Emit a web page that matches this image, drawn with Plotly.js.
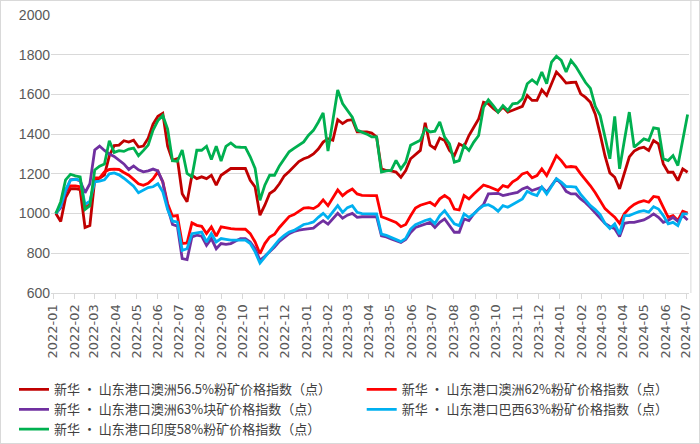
<!DOCTYPE html>
<html>
<head>
<meta charset="utf-8">
<script src="https://cdn.plot.ly/plotly-3.0.1.min.js"></script>
<style>
  html, body { margin: 0; padding: 0; background: #fff; }
  #wrap { position: relative; width: 700px; height: 444px; }
  #chart { width: 700px; height: 444px; }
  #frame { position: absolute; left: 0; top: 0; width: 700px; height: 444px; box-sizing: border-box; border: 1px solid #d9d9d9; pointer-events: none; }
</style>
</head>
<body>
<div id="wrap"><div id="chart"></div><div id="frame"></div></div>
<script>
// Weekly observation dates
const dates = [
 '2022-01-05','2022-01-12','2022-01-19','2022-01-26','2022-02-02','2022-02-09','2022-02-16','2022-02-23',
 '2022-03-02','2022-03-09','2022-03-16','2022-03-23','2022-03-30','2022-04-06','2022-04-13','2022-04-20','2022-04-27',
 '2022-05-04','2022-05-11','2022-05-18','2022-05-25','2022-06-01','2022-06-08','2022-06-15','2022-06-22','2022-06-29',
 '2022-07-06','2022-07-13','2022-07-20','2022-07-27','2022-08-03','2022-08-10','2022-08-17','2022-08-24','2022-08-31',
 '2022-09-07','2022-09-14','2022-09-21','2022-09-28','2022-10-05','2022-10-12','2022-10-19','2022-10-26',
 '2022-11-02','2022-11-09','2022-11-16','2022-11-23','2022-11-30','2022-12-07','2022-12-14','2022-12-21','2022-12-28',
 '2023-01-04','2023-01-11','2023-01-18','2023-01-25','2023-02-01','2023-02-08','2023-02-15','2023-02-22',
 '2023-03-01','2023-03-08','2023-03-15','2023-03-22','2023-03-29','2023-04-05','2023-04-12','2023-04-19','2023-04-26',
 '2023-05-03','2023-05-10','2023-05-17','2023-05-24','2023-05-31','2023-06-07','2023-06-14','2023-06-21','2023-06-28',
 '2023-07-05','2023-07-12','2023-07-19','2023-07-26','2023-08-02','2023-08-09','2023-08-16','2023-08-23','2023-08-30',
 '2023-09-06','2023-09-13','2023-09-20','2023-09-27','2023-10-04','2023-10-11','2023-10-18','2023-10-25',
 '2023-11-01','2023-11-08','2023-11-15','2023-11-22','2023-11-29','2023-12-06','2023-12-13','2023-12-20','2023-12-27',
 '2024-01-03','2024-01-10','2024-01-17','2024-01-24','2024-01-31','2024-02-07','2024-02-14','2024-02-21','2024-02-28',
 '2024-03-06','2024-03-13','2024-03-20','2024-03-27','2024-04-03','2024-04-10','2024-04-17','2024-04-24',
 '2024-05-01','2024-05-08','2024-05-15','2024-05-22','2024-05-29','2024-06-05','2024-06-12','2024-06-19','2024-06-26',
 '2024-07-03'
];

const seriesNames = [
 '新华 · 山东港口澳洲56.5%粉矿价格指数（点）',
 '新华 · 山东港口澳洲62%粉矿价格指数（点）',
 '新华 · 山东港口澳洲63%块矿价格指数（点）',
 '新华 · 山东港口巴西63%粉矿价格指数（点）',
 '新华 · 山东港口印度58%粉矿价格指数（点）'
];

const aus565 = [
 1000,960,1080,1125,1125,1120,930,940,1170,1178,
 1195,1290,1342,1345,1367,1360,1370,1335,1340,1380,
 1450,1490,1505,1340,1268,1277,1100,1059,1193,1176,
 1185,1176,1193,1143,1193,1210,1227,1227,1227,1227,
 1168,1134,992,1042,1101,1118,1150,1190,1212,1238,
 1262,1276,1285,1300,1325,1360,1377,1369,1473,1453,
 1470,1473,1411,1411,1411,1405,1386,1225,1217,1215,
 1209,1183,1217,1276,1295,1318,1457,1344,1327,1380,
 1368,1318,1292,1351,1338,1393,1435,1477,1561,1553,
 1530,1511,1536,1511,1520,1532,1540,1595,1570,1570,
 1623,1595,1655,1713,1687,1657,1660,1662,1603,1585,
 1560,1500,1400,1290,1205,1183,1124,1208,1285,1315,
 1328,1334,1318,1368,1351,1250,1208,1208,1166,1225,1208
];

const aus62 = [
 1000,1040,1110,1139,1139,1135,1030,1046,1180,1180,
 1210,1222,1224,1222,1207,1193,1172,1150,1142,1152,
 1175,1210,1160,1050,987,990,849,852,953,941,
 936,899,933,886,933,928,924,922,921,921,
 899,857,798,849,882,896,930,960,985,995,
 1012,1028,1030,1025,1040,1069,1040,1080,1119,1090,
 1110,1124,1099,1092,1090,1090,1090,984,975,965,
 955,934,945,989,1028,1042,1050,1057,1040,1074,
 1091,1074,1023,1018,1091,1074,1099,1124,1144,1136,
 1124,1116,1141,1133,1160,1175,1200,1208,1180,1191,
 1225,1191,1240,1292,1267,1234,1237,1234,1200,1172,
 1140,1105,1065,1025,1003,982,951,1000,1027,1046,
 1058,1065,1057,1086,1082,1032,981,990,965,1012,1002
];

const aus63lump = [
 1000,1030,1110,1170,1173,1165,1105,1150,1320,1340,
 1318,1300,1288,1270,1250,1222,1240,1220,1210,1215,
 1224,1215,1160,1030,945,937,773,768,882,891,
 886,840,874,823,849,845,849,862,874,874,
 857,823,765,785,807,832,860,880,899,910,
 917,920,922,927,947,964,947,975,1001,977,
 992,1001,981,984,984,984,984,888,882,872,
 863,854,870,905,930,939,950,956,930,956,
 973,939,906,906,973,965,998,1023,1045,1099,
 1099,1102,1091,1097,1100,1107,1124,1133,1116,1124,
 1133,1107,1140,1175,1150,1112,1099,1099,1074,1055,
 1030,1005,980,950,935,923,884,951,956,956,
 962,968,981,998,981,956,965,981,961,990,968
];

const bra63 = [
 1000,1040,1120,1168,1172,1170,1046,1063,1160,1163,
 1170,1200,1205,1195,1178,1160,1138,1105,1120,1131,
 1135,1150,1110,1020,962,958,815,823,899,902,
 907,857,899,857,874,870,866,866,866,866,
 849,807,751,781,807,840,870,890,907,915,
 930,945,950,958,981,1001,977,1010,1040,1006,
 1030,1040,1006,1000,998,998,998,897,890,880,
 871,859,875,922,944,955,965,972,950,990,
 1015,981,948,939,998,981,998,1023,1040,1045,
 1032,1012,1040,1032,1045,1060,1074,1112,1099,1091,
 1133,1099,1140,1175,1158,1136,1136,1133,1096,1070,
 1040,1020,995,950,925,948,897,990,990,1000,
 1010,1015,1007,1035,1023,990,948,956,939,998,998
];

const ind58 = [
 1000,1060,1170,1198,1190,1185,1021,1040,1220,1239,
 1250,1367,1308,1317,1313,1325,1330,1291,1317,1345,
 1420,1468,1494,1426,1266,1263,1320,1202,1185,1319,
 1319,1339,1272,1339,1265,1339,1356,1336,1334,1333,
 1286,1227,1067,1143,1193,1193,1240,1275,1311,1328,
 1345,1361,1395,1419,1460,1507,1315,1470,1622,1554,
 1518,1485,1420,1411,1400,1386,1386,1209,1215,1217,
 1268,1225,1259,1344,1355,1369,1428,1411,1415,1462,
 1385,1351,1259,1267,1343,1318,1360,1393,1536,1573,
 1544,1511,1544,1519,1553,1556,1578,1654,1674,1654,
 1713,1654,1763,1792,1771,1713,1771,1740,1700,1660,
 1630,1540,1494,1376,1276,1489,1225,1370,1511,1334,
 1355,1376,1368,1432,1427,1276,1267,1292,1242,1370,1499
];

const colors = ['#C00000', '#FF0000', '#7030A0', '#00B0F0', '#00B050'];
const values = [aus565, aus62, aus63lump, bra63, ind58];
const legendFor = ['legend', 'legend2', 'legend', 'legend2', 'legend'];

const traces = values.map((v, k) => ({
  x: dates, y: v, type: 'scatter', mode: 'lines', name: seriesNames[k],
  line: { color: colors[k], width: 2.8 },
  legend: legendFor[k], hoverinfo: 'x+y'
}));

const tickFont = { family: 'DejaVu Sans, sans-serif', size: 13, color: '#595959' };
const legendFont = { family: 'Noto Sans CJK SC, sans-serif', size: 13, color: '#404040' };

const layout = {
  width: 700, height: 444,
  margin: { l: 51, r: 11, t: 15, b: 151, autoexpand: false },
  paper_bgcolor: '#ffffff', plot_bgcolor: '#ffffff',
  showlegend: true,
  xaxis: {
    type: 'date', range: ['2021-12-29', '2024-07-05'],
    tick0: '2022-01-01', dtick: 'M1', tickformat: '%Y-%m', tickangle: -90,
    ticks: 'outside', ticklen: 5, tickcolor: '#d9d9d9', tickwidth: 1,
    showgrid: false, showline: true, linecolor: '#d9d9d9', linewidth: 1,
    tickfont: tickFont, zeroline: false, fixedrange: true, automargin: false
  },
  yaxis: {
    range: [600, 2000], dtick: 200, tick0: 600,
    showgrid: true, gridcolor: '#d9d9d9', gridwidth: 1,
    showline: false, zeroline: false, ticks: '',
    tickfont: { family: 'Liberation Sans, Arial, sans-serif', size: 14, color: '#595959' },
    fixedrange: true, automargin: false
  },
  legend: {
    x: -0.058, xanchor: 'left', y: -0.293, yanchor: 'top',
    orientation: 'v', font: legendFont, bgcolor: 'rgba(0,0,0,0)', tracegroupgap: 0
  },
  legend2: {
    x: 0.487, xanchor: 'left', y: -0.293, yanchor: 'top',
    orientation: 'v', font: legendFont, bgcolor: 'rgba(0,0,0,0)', tracegroupgap: 0
  },
  shapes: [
    { type: 'line', xref: 'paper', yref: 'paper', x0: 1.003, x1: 1.003, y0: 0, y1: 1.054,
      line: { color: '#d9d9d9', width: 1 } }
  ]
};

Plotly.newPlot('chart', traces, layout, { displayModeBar: false, staticPlot: true });
</script>
</body>
</html>
